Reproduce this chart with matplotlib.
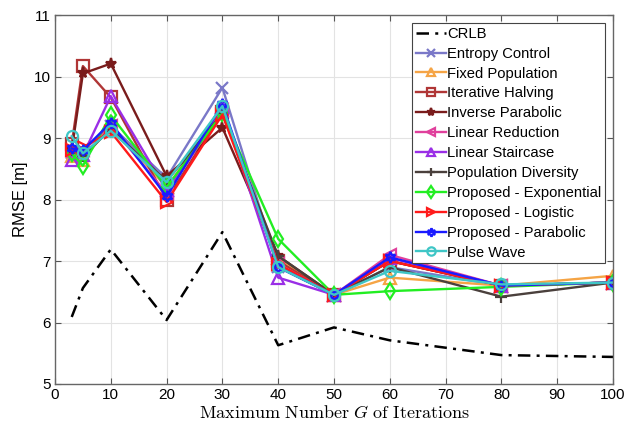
import matplotlib
matplotlib.use("Agg")
import matplotlib.pyplot as plt

plt.rcParams['font.family'] = ['Liberation Sans', 'DejaVu Sans']
plt.rcParams['mathtext.fontset'] = 'cm'

G = [3, 5, 10, 20, 30, 40, 50, 60, 80, 100]

crlb = [6.09, 6.56, 7.19, 6.04, 7.47, 5.63, 5.92, 5.71, 5.47, 5.44]
entropy_control = [8.75, 8.80, 9.20, 8.35, 9.82, 6.90, 6.45, 6.90, 6.60, 6.65]
fixed_population = [8.70, 8.65, 9.20, 8.20, 9.45, 7.05, 6.45, 6.73, 6.60, 6.76]
iterative_halving = [8.90, 10.17, 9.66, 8.00, 9.42, 7.00, 6.45, 7.00, 6.60, 6.65]
inverse_parabolic = [8.80, 10.05, 10.21, 8.38, 9.17, 7.08, 6.45, 7.00, 6.60, 6.65]
linear_reduction = [8.70, 8.80, 9.20, 8.10, 9.45, 6.95, 6.45, 7.10, 6.60, 6.65]
linear_staircase = [8.64, 8.72, 9.68, 8.15, 9.50, 6.73, 6.45, 7.05, 6.60, 6.65]
population_diversity = [8.80, 8.70, 9.15, 8.30, 9.40, 7.08, 6.45, 6.90, 6.42, 6.65]
proposed_exponential = [8.75, 8.55, 9.37, 8.20, 9.40, 7.36, 6.45, 6.51, 6.58, 6.65]
proposed_logistic = [8.80, 8.85, 9.10, 7.96, 9.38, 6.95, 6.45, 7.00, 6.60, 6.65]
proposed_parabolic = [8.83, 8.80, 9.25, 8.05, 9.55, 6.90, 6.45, 7.06, 6.60, 6.65]
pulse_wave = [9.03, 8.75, 9.12, 8.28, 9.52, 6.90, 6.45, 6.84, 6.62, 6.65]

series = [
    ("Entropy Control", entropy_control, "#7a78c8", "x", False),
    ("Fixed Population", fixed_population, "#f5a445", "^", False),
    ("Iterative Halving", iterative_halving, "#b03636", "s", False),
    ("Inverse Parabolic", inverse_parabolic, "#7a1c1c", "*", True),
    ("Linear Reduction", linear_reduction, "#e0409c", "<", False),
    ("Linear Staircase", linear_staircase, "#9a2ee6", "^", False),
    ("Population Diversity", population_diversity, "#4a403c", "+", False),
    ("Proposed - Exponential", proposed_exponential, "#22ee22", "d", False),
    ("Proposed - Logistic", proposed_logistic, "#ff1a1a", ">", False),
    ("Proposed - Parabolic", proposed_parabolic, "#1a1aff", (6, 1, 0), False),
    ("Pulse Wave", pulse_wave, "#3fc6c6", "o", False),
]

fig = plt.figure(figsize=(6.27, 4.30), dpi=100)
ax = fig.add_axes([0.0877, 0.107, 0.890, 0.858])

ax.plot(G, crlb, color='black', lw=1.8, dashes=(5, 2.5, 1.2, 2.5), label='CRLB')
for name, vals, col, mk, filled in series:
    ax.plot(G, vals, '-', color=col, lw=1.7, marker=mk, markersize=8,
            markerfacecolor=col if filled else 'none', markeredgecolor=col,
            markeredgewidth=1.6, label=name)

ax.set_xlim(0, 100)
ax.set_ylim(5, 11)
ax.set_xticks(range(0, 101, 10))
ax.set_yticks(range(5, 12))
ax.grid(True, color='#e3e3e3', lw=0.8)
ax.set_axisbelow(True)
ax.tick_params(direction='in', top=True, right=True, labelsize=11,
               length=4, color='#555555', pad=3)
for s in ax.spines.values():
    s.set_color('#666666')
    s.set_linewidth(1.0)

ax.set_ylabel('RMSE [m]', fontsize=12, labelpad=4)
ax.set_xlabel(r'$\mathrm{Maximum\ Number\ }G\mathrm{\ of\ Iterations}$',
              fontsize=13, labelpad=2)

leg = ax.legend(loc='upper right', fontsize=10.6, handlelength=2.0,
                handletextpad=0.1, labelspacing=0.4, borderpad=0.25,
                borderaxespad=0.55, fancybox=False, framealpha=1,
                edgecolor='#444444', markerscale=0.75)
leg.get_frame().set_linewidth(0.8)

fig.savefig('out.png', dpi=100)
